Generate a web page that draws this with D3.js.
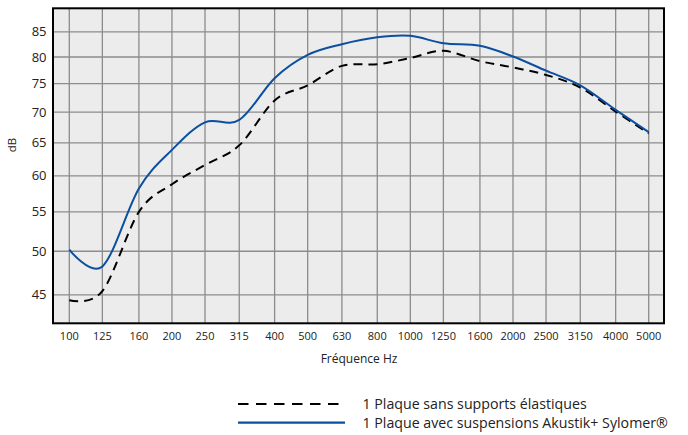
<!DOCTYPE html>
<html>
<head>
<meta charset="utf-8">
<script src="https://cdn.jsdelivr.net/npm/d3@7"></script>
<style>
  body { margin: 0; background: #fff; }
  svg text { font-family: "Open Sans", "Noto Sans", sans-serif; fill: #222; }
</style>
</head>
<body>
<svg id="chart" width="688" height="435"></svg>
<script>
const freqs = [100, 125, 160, 200, 250, 315, 400, 500, 630, 800, 1000, 1250, 1600, 2000, 2500, 3150, 4000, 5000];
const dbTicks = [45, 50, 55, 60, 65, 70, 75, 80, 85];

// 1 Plaque sans supports élastiques
const sansSupports = [44.4, 45.4, 55.0, 58.8, 61.6, 64.6, 72.0, 74.7, 78.3, 78.6, 79.8, 81.2, 79.2, 78.0, 76.6, 74.3, 70.1, 66.5];
// 1 Plaque avec suspensions Akustik+ Sylomer®
const avecSuspensions = [50.2, 48.2, 58.2, 63.9, 68.3, 68.7, 76.0, 80.4, 82.5, 83.9, 84.2, 82.7, 82.2, 80.1, 77.4, 74.7, 70.4, 66.7];

const legendLabels = ["1 Plaque sans supports élastiques", "1 Plaque avec suspensions Akustik+ Sylomer®"];

const svg = d3.select("#chart");
const frame = { left: 53, right: 664, top: 8.3, bottom: 323.3 };

const x = d3.scaleLog().domain([100, 5000]).range([69.3, 648.7]);
const y = d3.scaleLog().domain([42, 90]).range([frame.bottom, frame.top]);

svg.append("rect")
  .attr("x", frame.left).attr("y", frame.top)
  .attr("width", frame.right - frame.left).attr("height", frame.bottom - frame.top)
  .attr("fill", "#ececec");

// grid
svg.append("g").selectAll("line")
  .data(freqs).join("line")
  .attr("x1", d => x(d)).attr("x2", d => x(d))
  .attr("y1", frame.top).attr("y2", frame.bottom)
  .attr("stroke", "#8c8c8c").attr("stroke-width", 1.3);

svg.append("g").selectAll("line")
  .data(dbTicks).join("line")
  .attr("x1", frame.left).attr("x2", frame.right)
  .attr("y1", d => y(d)).attr("y2", d => y(d))
  .attr("stroke", "#8c8c8c").attr("stroke-width", 1.3);

// tick labels
svg.append("g").selectAll("text")
  .data(dbTicks).join("text")
  .attr("x", 46.5).attr("y", d => y(d)).attr("dy", "0.35em")
  .attr("text-anchor", "end")
  .style("font-size", "13px")
  .text(d => d);

svg.append("g").selectAll("text")
  .data(freqs).join("text")
  .attr("x", d => x(d)).attr("y", 340)
  .attr("text-anchor", "middle")
  .style("font-size", "11px")
  .text(d => d);

svg.append("text")
  .attr("transform", "translate(16,145) rotate(-90)")
  .attr("text-anchor", "middle")
  .style("font-size", "11.5px")
  .text("dB");

svg.append("text")
  .attr("x", 359).attr("y", 363)
  .attr("text-anchor", "middle")
  .style("font-size", "12px")
  .text("Fréquence Hz");

// curves
const line = d3.line()
  .curve(d3.curveCatmullRom.alpha(0))
  .x((d, i) => x(freqs[i]))
  .y(d => y(d));

svg.append("path")
  .datum(sansSupports)
  .attr("d", line)
  .attr("fill", "none")
  .attr("stroke", "#000")
  .attr("stroke-width", 2)
  .attr("stroke-dasharray", "9,6");

svg.append("path")
  .datum(avecSuspensions)
  .attr("d", line)
  .attr("fill", "none")
  .attr("stroke", "#0b4f9e")
  .attr("stroke-width", 2);

// frame
svg.append("rect")
  .attr("x", frame.left).attr("y", frame.top)
  .attr("width", frame.right - frame.left).attr("height", frame.bottom - frame.top)
  .attr("fill", "none")
  .attr("stroke", "#000")
  .attr("stroke-width", 2);

// legend
const legend = svg.append("g");
const styles = [
  { stroke: "#000", dash: "10.5,7.5" },
  { stroke: "#0b4f9e", dash: null }
];
legendLabels.forEach((label, i) => {
  const ly = 404 + i * 18.7;
  legend.append("line")
    .attr("x1", 238).attr("x2", 345)
    .attr("y1", ly).attr("y2", ly)
    .attr("stroke", styles[i].stroke)
    .attr("stroke-width", 2.2)
    .attr("stroke-dasharray", styles[i].dash);
  legend.append("text")
    .attr("x", 362.5).attr("y", ly).attr("dy", "0.35em")
    .style("font-size", "14.2px")
    .text(label);
});
</script>
</body>
</html>
